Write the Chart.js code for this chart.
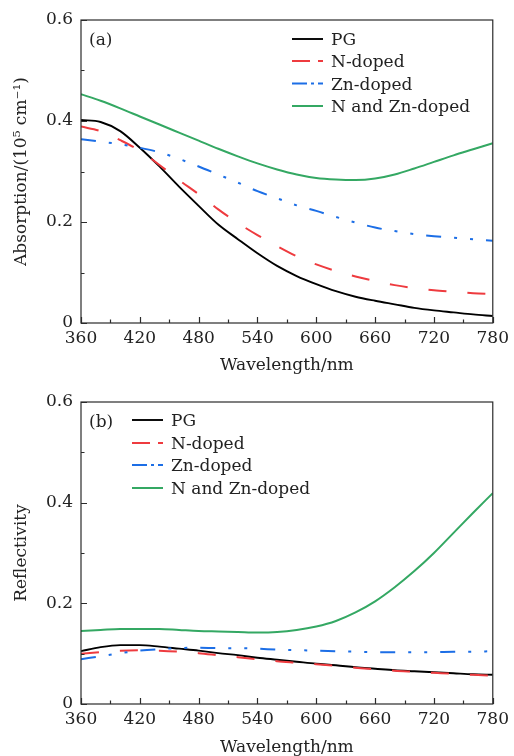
<!DOCTYPE html>
<html><head><meta charset="utf-8">
<script src="https://cdn.jsdelivr.net/npm/chart.js@4/dist/chart.umd.min.js"></script>
<style>
html,body{margin:0;padding:0;background:#fff;overflow:hidden;}
.w{position:absolute;left:0;width:514px;}
canvas{display:block;}
</style>
</head><body>
<div class="w" style="top:0;height:378px"><canvas id="c1" width="514" height="378"></canvas></div>
<div class="w" style="top:378px;height:382px"><canvas id="c2" width="514" height="382"></canvas></div>
<script>
// ---- data ----
const wavelengths = [360,380,400,420,440,460,480,500,520,540,560,580,600,620,640,660,680,700,720,740,760,780];
const seriesNames = ['PG','N-doped','Zn-doped','N and Zn-doped'];

// (a) Absorption (10^5 cm^-1)
const absPG   = [0.402,0.398,0.380,0.347,0.310,0.270,0.232,0.195,0.166,0.138,0.113,0.093,0.077,0.063,0.052,0.044,0.037,0.030,0.025,0.021,0.017,0.014];
const absN    = [0.389,0.380,0.362,0.341,0.313,0.283,0.255,0.225,0.198,0.174,0.152,0.132,0.116,0.103,0.092,0.083,0.075,0.069,0.065,0.062,0.059,0.057];
const absZn   = [0.364,0.359,0.354,0.347,0.338,0.325,0.310,0.294,0.278,0.261,0.247,0.233,0.222,0.210,0.199,0.189,0.182,0.176,0.172,0.169,0.166,0.163];
const absNZn  = [0.453,0.440,0.425,0.409,0.393,0.377,0.361,0.345,0.330,0.316,0.304,0.294,0.287,0.284,0.283,0.286,0.294,0.306,0.319,0.332,0.344,0.356];

// (b) Reflectivity
const refPG   = [0.105,0.113,0.117,0.117,0.114,0.110,0.106,0.101,0.097,0.092,0.088,0.084,0.080,0.077,0.073,0.070,0.067,0.065,0.063,0.061,0.059,0.058];
const refN    = [0.100,0.103,0.106,0.107,0.106,0.104,0.101,0.097,0.093,0.089,0.085,0.082,0.079,0.076,0.072,0.069,0.066,0.064,0.062,0.060,0.058,0.056];
const refZn   = [0.089,0.095,0.101,0.106,0.109,0.111,0.112,0.111,0.111,0.110,0.108,0.107,0.106,0.105,0.104,0.103,0.103,0.103,0.103,0.104,0.104,0.105];
const refNZn  = [0.145,0.147,0.149,0.149,0.149,0.147,0.145,0.144,0.143,0.142,0.143,0.147,0.154,0.165,0.182,0.204,0.232,0.264,0.300,0.340,0.380,0.419];

const xTicks = [360,420,480,540,600,660,720,780];
const xMinorTicks = [390,450,510,570,630,690,750];
const yTicks = [0,0.2,0.4,0.6];
const yMinorTicks = [0.1,0.3,0.5];

// ---- styles ----
const FONT = "'DejaVu Serif', serif";
const colors = ['#000000','#ee3b3f','#1c6ee6','#34a863'];
const widths = [1.9,2,2,2];
const dashes = [[],[18,21],[15,13,3,13,3,13],[]];
const legendDashes = [[],[18,8,5,100],[15,4,3,4,8,100],[]];

function buildDatasets(arrs){
  return arrs.map((arr,i)=>({
    label: seriesNames[i],
    data: wavelengths.map((w,j)=>({x:w,y:arr[j]})),
    borderColor: colors[i],
    borderWidth: widths[i],
    borderDash: dashes[i],
    borderCapStyle: 'butt',
    pointRadius: 0,
    fill: false,
    tension: 0.4,
    cubicInterpolationMode: 'monotone',
    order: 4-i
  }));
}

const decor = {
  id:'decor',
  afterDatasetsDraw(chart, args, opts){
    const ctx = chart.ctx, a = chart.chartArea;
    const xs = chart.scales.x, ys = chart.scales.y;
    ctx.save();
    ctx.strokeStyle = '#2b2b2b';
    ctx.lineWidth = 1.2;
    ctx.setLineDash([]);
    ctx.strokeRect(a.left, a.top, a.right-a.left, a.bottom-a.top);
    ctx.beginPath();
    xTicks.forEach(v=>{const p=Math.round(xs.getPixelForValue(v))+0.5; ctx.moveTo(p,a.bottom); ctx.lineTo(p,a.bottom-6);});
    xMinorTicks.forEach(v=>{const p=Math.round(xs.getPixelForValue(v))+0.5; ctx.moveTo(p,a.bottom); ctx.lineTo(p,a.bottom-3.5);});
    yTicks.forEach(v=>{const p=Math.round(ys.getPixelForValue(v))+0.5; ctx.moveTo(a.left,p); ctx.lineTo(a.left+6,p);});
    yMinorTicks.forEach(v=>{const p=Math.round(ys.getPixelForValue(v))+0.5; ctx.moveTo(a.left,p); ctx.lineTo(a.left+3.5,p);});
    ctx.stroke();
    // panel label
    ctx.fillStyle = '#222';
    ctx.font = '17px ' + FONT;
    ctx.textBaseline = 'alphabetic';
    ctx.textAlign = 'left';
    ctx.fillText(opts.panel, 89, a.top + 25);
    // legend
    chart.data.datasets.forEach((ds,i)=>{
      const y = opts.rows[i];
      ctx.strokeStyle = ds.borderColor;
      ctx.lineWidth = ds.borderWidth;
      ctx.lineCap = 'butt';
      ctx.setLineDash(legendDashes[i]);
      ctx.beginPath();
      ctx.moveTo(opts.lx, y); ctx.lineTo(opts.lx+31, y);
      ctx.stroke();
      ctx.setLineDash([]);
      ctx.fillStyle = '#222';
      ctx.fillText(ds.label, opts.lx+39, y+6);
    });
    ctx.restore();
  }
};

function makeChart(id, arrs, yTitle, cfg){
  return new Chart(document.getElementById(id), {
    type:'line',
    data:{datasets: buildDatasets(arrs)},
    plugins:[decor],
    options:{
      responsive:false,
      animation:false,
      events:[],
      layout:{padding:{left:0,right:17,top:cfg.top,bottom:0}},
      plugins:{legend:{display:false},tooltip:{enabled:false},
        decor:{panel:cfg.panel, lx:cfg.lx, rows:cfg.rows}},
      scales:{
        x:{
          type:'linear', min:360, max:780,
          afterBuildTicks(s){ s.ticks = xTicks.map(v=>({value:v})); },
          afterFit(s){ s.height = cfg.xh; },
          grid:{display:false, drawTicks:false, tickLength:0},
          border:{display:false},
          ticks:{padding:5, color:'#222', font:{family:FONT,size:17}, maxRotation:0, autoSkip:false,
            callback:(v)=>String(v)},
          title:{display:true, text:'Wavelength/nm', color:'#222', font:{family:FONT,size:17}, padding:{top:0,bottom:2}}
        },
        y:{
          type:'linear', min:0, max:0.6,
          afterBuildTicks(s){ s.ticks = yTicks.map(v=>({value:v})); },
          afterFit(s){ s.width = 81; },
          grid:{display:false, drawTicks:false, tickLength:0},
          border:{display:false},
          ticks:{padding:8, color:'#222', font:{family:FONT,size:17},
            callback:(v)=> v===0 ? '0' : Number(v).toFixed(1)},
          title:{display:true, text:yTitle, color:'#222', font:{family:FONT,size:17}, padding:{top:11,bottom:0}}
        }
      }
    }
  });
}

makeChart('c1', [absPG,absN,absZn,absNZn], 'Absorption/(10\u2075 cm\u207B\u00B9)',
  {top:20, xh:55, panel:'(a)', lx:292, rows:[39,61,83.5,106]});
makeChart('c2', [refPG,refN,refZn,refNZn], 'Reflectivity',
  {top:24, xh:56, panel:'(b)', lx:132, rows:[42,65,87,110]});
</script>
</body></html>
